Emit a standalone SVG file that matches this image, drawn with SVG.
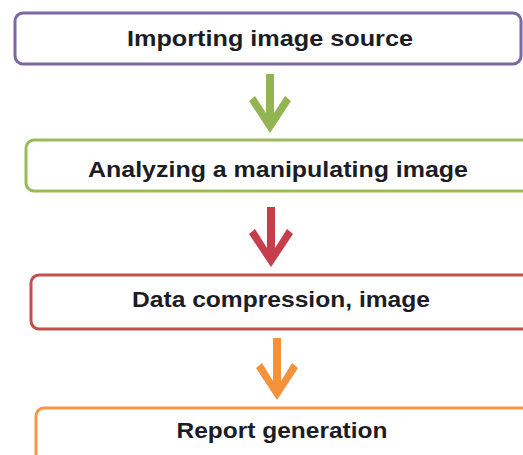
<svg xmlns="http://www.w3.org/2000/svg" width="523" height="455" viewBox="0 0 523 455">
  <style>
    .box { fill: #ffffff; stroke-width: 3; }
    .label { font-family: "Liberation Sans", Arial, sans-serif; font-weight: bold; font-size: 22px; fill: #1c1c24; text-anchor: middle; }
  </style>
  <rect width="523" height="455" fill="#ffffff"/>

  <g id="connectors">
    <path id="arrow-1" fill="#92b551" d="M266,74 L274,74 L274,113 L285,96 L291,101 L270,133 L249,101 L255,96 L266,113 Z"/>
    <path id="arrow-2" fill="#c63d4c" d="M267,207 L275,207 L275,248 L287,229 L293,234 L271,267 L249,234 L255,229 L267,248 Z"/>
    <path id="arrow-3" fill="#f4923b" d="M273,338 L281,338 L281,381 L292,363 L298,368 L277,400 L256,368 L262,363 L273,381 Z"/>
  </g>

  <g id="node-import">
    <rect class="box" x="15" y="13" width="506" height="51" rx="8" stroke="#7d68a6"/>
    <text class="label" x="270" y="46" textLength="286" lengthAdjust="spacingAndGlyphs">Importing image source</text>
  </g>
  <g id="node-analyze">
    <rect class="box" x="26" y="140" width="510" height="51" rx="8" stroke="#9bbb59"/>
    <text class="label" x="278" y="177" textLength="380" lengthAdjust="spacingAndGlyphs">Analyzing a manipulating image</text>
  </g>
  <g id="node-compress">
    <rect class="box" x="31" y="275" width="510" height="54" rx="8" stroke="#c0504d"/>
    <text class="label" x="281" y="307" textLength="298" lengthAdjust="spacingAndGlyphs">Data compression, image</text>
  </g>
  <g id="node-report">
    <rect class="box" x="36" y="408" width="510" height="60" rx="8" stroke="#f79646"/>
    <text class="label" x="282" y="438" textLength="211" lengthAdjust="spacingAndGlyphs">Report generation</text>
  </g>
</svg>
